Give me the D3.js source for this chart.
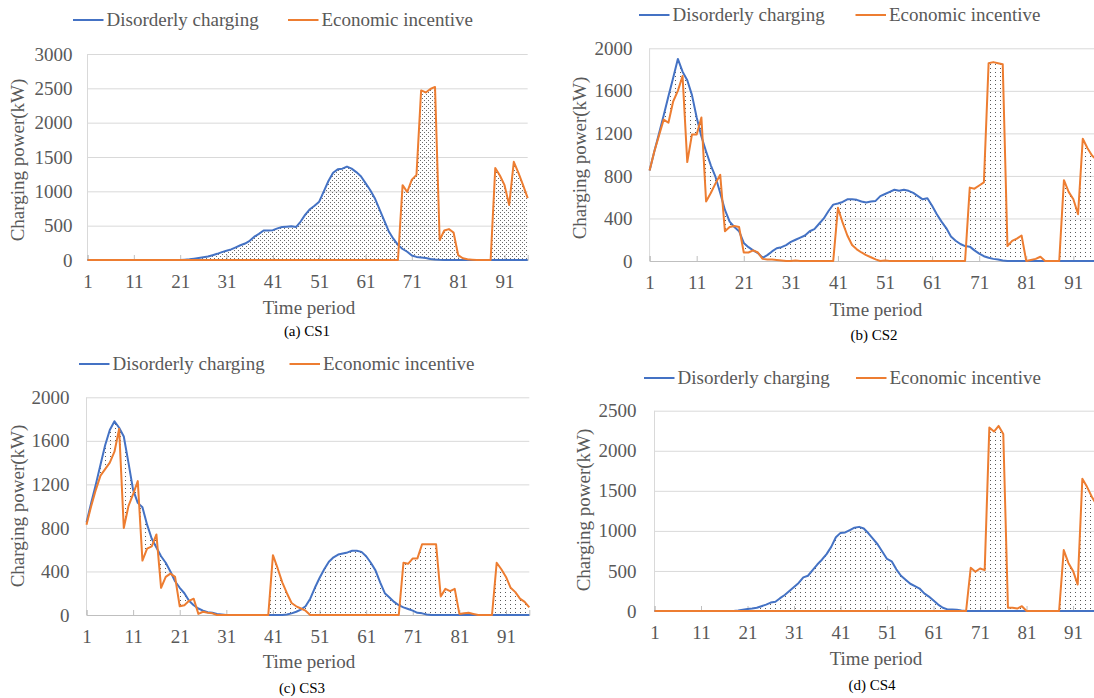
<!DOCTYPE html>
<html>
<head>
<meta charset="utf-8">
<script src="https://cdn.jsdelivr.net/npm/d3@7"></script>
<style>
  html, body { margin: 0; padding: 0; background: #fff; }
  svg { display: block; }
  svg text { font-family: "Liberation Serif", "Times New Roman", serif; }
</style>
</head>
<body>
<svg id="chart" width="1094" height="698" font-family="Liberation Serif, serif"></svg>
<script>
// Time periods (15-minute slots of one day)
const periods = d3.range(1, 97);
const xTickValues = [1, 11, 21, 31, 41, 51, 61, 71, 81, 91];
const seriesNames = ["Disorderly charging", "Economic incentive"];
const captions = ["(a) CS1", "(b) CS2", "(c) CS3", "(d) CS4"];
const yMaxes = [3000, 2000, 2000, 2500];
const ySteps = [500, 400, 400, 500];

// Charging power (kW) per period for each charging station
const cs1Disorderly = [
  0,0,0,0,0,0,0,0,0,0, 0,0,0,0,0,0,0,0,0,0,
  0,5,10,20,30,40,50,70,90,115,
  135,155,185,215,240,280,340,380,430,430,
  435,460,480,485,490,480,560,660,740,790,
  850,1000,1150,1270,1320,1330,1360,1330,1280,1220,
  1120,1020,900,740,580,420,310,220,160,120,
  65,45,38,30,15,8,3,0,0,0,
  0,0,0,0,0,0,0,0,0,0, 0,0,0,0,0,0
];
const cs1Incentive = [
  0,0,0,0,0,0,0,0,0,0, 0,0,0,0,0,0,0,0,0,0,
  0,0,0,0,0,0,0,0,0,0, 0,0,0,0,0,0,0,0,0,0,
  0,0,0,0,0,0,0,0,0,0, 0,0,0,0,0,0,0,0,0,0,
  0,0,0,0,0,0,0,0,1090,990,
  1170,1240,2470,2440,2490,2520,290,430,450,400,
  70,25,10,5,0,0,0,0,1340,1230,
  1090,800,1430,1270,1090,900
];
const cs2Disorderly = [
  850,1030,1200,1370,1550,1720,1900,1780,1700,1560,
  1350,1170,1030,900,790,640,480,370,320,280,
  170,130,100,75,30,55,90,120,130,150,
  180,200,220,240,280,300,350,400,470,530,
  540,555,580,580,575,560,550,560,565,610,
  630,650,670,660,670,660,640,610,580,590,
  520,440,370,310,230,190,160,140,135,100,
  70,45,30,20,15,5,0,0,0,0,
  0,0,0,0,0,0,0,0,0,0, 0,0,0,0,0,0
];
const cs2Incentive = [
  850,1030,1180,1330,1300,1500,1600,1740,930,1190,
  1190,1350,560,640,730,810,280,320,330,320,
  80,80,100,80,20,15,15,10,5,0,
  0,5,0,0,0,0,0,0,0,0,
  500,360,240,150,110,80,55,35,15,0,
  5,0,0,0,0,0,0,0,0,0,
  0,0,0,0,0,0,0,0,690,680,
  710,740,1860,1870,1860,1850,140,190,210,240,
  0,10,20,40,0,0,0,0,760,650,
  580,440,1150,1060,990,950
];
const cs3Disorderly = [
  850,1030,1200,1380,1560,1700,1780,1720,1640,1400,
  1150,1030,990,830,700,620,540,480,400,310,
  250,200,130,90,60,40,25,20,10,5,
  0,0,0,0,0,0,0,0,0,0,
  0,0,0,5,15,30,50,80,150,250,
  340,420,490,530,555,565,575,590,590,580,
  540,480,410,300,200,160,120,90,70,55,
  40,20,15,5,0,0,0,0,0,0,
  0,0,0,0,0,0,0,0,0,0, 0,0,0,0,0,0
];
const cs3Incentive = [
  830,1000,1150,1280,1340,1400,1500,1710,800,1000,
  1110,1230,500,610,630,740,250,350,380,350,
  80,90,130,150,10,30,20,15,0,0,
  0,0,0,0,0,0,0,0,0,0,
  550,430,300,200,110,80,60,40,0,0,
  0,0,0,0,0,0,0,0,0,0,
  0,0,0,0,0,0,0,0,480,470,
  520,520,650,650,650,650,170,240,220,240,
  10,15,20,10,0,0,0,0,480,420,
  350,250,210,150,120,70
];
const cs4Disorderly = [
  0,0,0,0,0,0,0,0,0,0, 0,0,0,0,0,0,0,0,
  5,15,25,30,40,60,80,105,115,160,
  200,250,300,350,420,440,510,580,640,710,
  800,920,975,980,1010,1040,1050,1030,970,900,
  830,740,650,620,520,440,390,340,310,280,
  220,180,130,80,40,20,20,15,5,
  0,0,0,0,0,0,0,0,0,0, 0,0,0,0,0,0,0,0,0,0,
  0,0,0,0,0,0,0,0,0
];
const cs4Incentive = [
  0,0,0,0,0,0,0,0,0,0, 0,0,0,0,0,0,0,0,0,0,
  0,0,0,0,0,0,0,0,0,0, 0,0,0,0,0,0,0,0,0,0,
  0,0,0,0,0,0,0,0,0,0, 0,0,0,0,0,0,0,0,0,0,
  0,0,0,0,0,0,0,0,540,490,
  530,510,2290,2240,2310,2210,40,40,30,60,
  0,0,0,0,0,0,0,0,760,600,
  500,330,1650,1550,1430,1330
];

const disorderlyData = [cs1Disorderly, cs2Disorderly, cs3Disorderly, cs4Disorderly];
const incentiveData = [cs1Incentive, cs2Incentive, cs3Incentive, cs4Incentive];

// Placement of the four panels on the page
const layouts = [
  { x1: 87.5, x96: 527.7, y0: 260, yTop: 54,   legendY: 20,  legendX: [73, 288],    yLabelPad: 15,
    yTitle: [17.5, 160], xTitle: [309, 308], cap: [307, 331], dots: "dotsDense" },
  { x1: 649.6, x96: 1096.9, y0: 261, yTop: 48.3, legendY: 15,  legendX: [639, 855.5], yLabelPad: 17,
    yTitle: [580, 158], xTitle: [876, 310], cap: [874, 335], dots: "dotsSparse" },
  { x1: 86.5, x96: 529.3, y0: 615, yTop: 397.3, legendY: 364, legendX: [79, 289.5],  yLabelPad: 17,
    yTitle: [17.5, 506], xTitle: [309, 662], cap: [302, 688], dots: "dotsSparse" },
  { x1: 654.5, x96: 1096.3, y0: 611, yTop: 410.7, legendY: 378, legendX: [644, 856],  yLabelPad: 18,
    yTitle: [584, 510], xTitle: [876, 659], cap: [872, 685], dots: "dotsSparse" }
];

const colors = ["#4472C4", "#ED7D31"];
const textColor = "#595959";
const gridColor = "#d9d9d9";
const serif = '"Liberation Serif", "Times New Roman", serif';

const svg = d3.select("#chart");
const defs = svg.append("defs");

// dotted fills for the gap between the two curves
const pDense = defs.append("pattern").attr("id", "dotsDense")
  .attr("patternUnits", "userSpaceOnUse").attr("width", 4).attr("height", 4);
pDense.append("rect").attr("x", 0).attr("y", 0).attr("width", 1).attr("height", 1).attr("fill", "#6a6a6a");
pDense.append("rect").attr("x", 2).attr("y", 2).attr("width", 1).attr("height", 1).attr("fill", "#6a6a6a");

const pSparse = defs.append("pattern").attr("id", "dotsSparse")
  .attr("patternUnits", "userSpaceOnUse").attr("width", 5).attr("height", 4);
pSparse.append("rect").attr("x", 0).attr("y", 0).attr("width", 1).attr("height", 1).attr("fill", "#5a5a5a");

function drawPanel(k) {
  const L = layouts[k];
  const blue = disorderlyData[k];
  const orange = incentiveData[k];
  const rows = periods.map((p, i) => ({ p, a: blue[i], b: orange[i] }));

  const x = d3.scaleLinear().domain([1, 96]).range([L.x1, L.x96]);
  const y = d3.scaleLinear().domain([0, yMaxes[k]]).range([L.y0, L.yTop]);
  const g = svg.append("g").attr("font-family", serif);

  // horizontal gridlines + value labels
  const yAxis = d3.axisLeft(y)
    .tickValues(d3.range(0, yMaxes[k] + 1, ySteps[k]))
    .tickSize(-(L.x96 - L.x1))
    .tickPadding(L.yLabelPad)
    .tickFormat(d3.format("d"));
  const yg = g.append("g").attr("transform", `translate(${L.x1},0)`).call(yAxis)
    .attr("font-family", serif).attr("font-size", 19);
  yg.select(".domain").remove();
  yg.selectAll(".tick line").attr("stroke", gridColor).attr("stroke-width", 1);
  yg.selectAll(".tick text").attr("fill", textColor);

  // vertical axis line
  g.append("line").attr("x1", L.x1).attr("x2", L.x1).attr("y1", L.yTop).attr("y2", L.y0)
    .attr("stroke", gridColor).attr("stroke-width", 1);

  // period axis: inward tick marks, then labels
  const xMarks = d3.axisBottom(x).tickValues(xTickValues).tickSize(-5).tickFormat("");
  const xm = g.append("g").attr("transform", `translate(0,${L.y0})`).call(xMarks);
  xm.select(".domain").attr("stroke", "#bfbfbf");
  xm.selectAll(".tick line").attr("stroke", "#bfbfbf");

  const xLabels = d3.axisBottom(x).tickValues(xTickValues).tickSize(0).tickPadding(15);
  const xl = g.append("g").attr("transform", `translate(0,${L.y0})`).call(xLabels)
    .attr("font-family", serif).attr("font-size", 19);
  xl.select(".domain").remove();
  xl.selectAll(".tick text").attr("fill", textColor);

  // dotted band between the two profiles
  const band = d3.area().x(d => x(d.p)).y0(d => y(d.a)).y1(d => y(d.b));
  g.append("path").datum(rows).attr("d", band).attr("fill", `url(#${L.dots})`).attr("stroke", "none");

  // profiles
  const lineA = d3.line().x(d => x(d.p)).y(d => y(d.a));
  const lineB = d3.line().x(d => x(d.p)).y(d => y(d.b));
  g.append("path").datum(rows).attr("d", lineA).attr("fill", "none")
    .attr("stroke", colors[0]).attr("stroke-width", 2).attr("stroke-linejoin", "round");
  g.append("path").datum(rows).attr("d", lineB).attr("fill", "none")
    .attr("stroke", colors[1]).attr("stroke-width", 2).attr("stroke-linejoin", "round");

  // legend
  seriesNames.forEach((name, j) => {
    const lx = L.legendX[j];
    g.append("line").attr("x1", lx).attr("x2", lx + 30.5).attr("y1", L.legendY).attr("y2", L.legendY)
      .attr("stroke", colors[j]).attr("stroke-width", 2);
    g.append("text").attr("x", lx + 33.5).attr("y", L.legendY).attr("dy", "0.33em")
      .attr("fill", textColor).attr("font-size", 19).text(name);
  });

  // axis titles and caption
  g.append("text")
    .attr("transform", `translate(${L.yTitle[0]},${L.yTitle[1]}) rotate(-90)`)
    .attr("text-anchor", "middle").attr("dy", "0.33em")
    .attr("fill", textColor).attr("font-size", 19).text("Charging power(kW)");
  g.append("text").attr("x", L.xTitle[0]).attr("y", L.xTitle[1]).attr("dy", "0.33em")
    .attr("text-anchor", "middle").attr("fill", textColor).attr("font-size", 19).text("Time period");
  g.append("text").attr("x", L.cap[0]).attr("y", L.cap[1]).attr("dy", "0.33em")
    .attr("text-anchor", "middle").attr("fill", "#000").attr("font-size", 15).text(captions[k]);
}

[0, 1, 2, 3].forEach(drawPanel);
</script>
</body>
</html>
